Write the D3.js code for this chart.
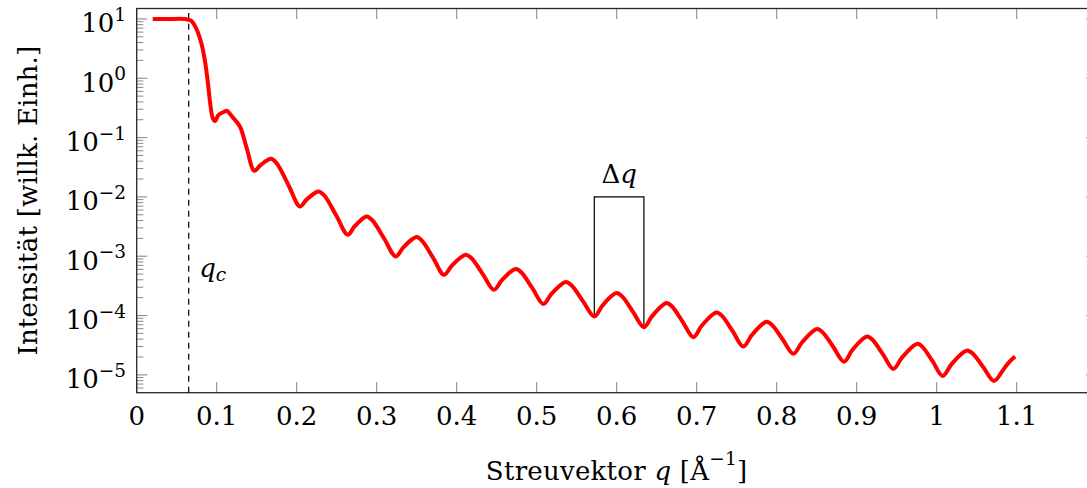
<!DOCTYPE html>
<html><head><meta charset="utf-8">
<script src="https://cdn.jsdelivr.net/npm/d3@7"></script>
<style>
body{margin:0;background:#fff;overflow:hidden}
svg{display:block}
text{font-family:"DejaVu Serif",serif;fill:#000}
</style>
</head><body>
<svg id="chart" width="1087" height="488"></svg>
<script>
// ---- data ----
const qValues = [
 0.020,0.040,0.060,0.068,0.075,0.0813,0.0854,0.0888,0.0916,0.0950,
 0.0979,0.1023,0.1096,0.1125,0.1194,0.129,0.1375,
 0.147,0.1544,0.1638,0.168,0.1752,0.1896,
 0.204,0.2122,0.2228,0.2275,0.2348,0.2493,
 0.2638,0.2721,0.2828,0.2875,0.2948,0.3093,
 0.3238,0.333,0.3448,0.350,0.3568,0.3705,
 0.3841,0.3937,0.4061,0.4116,0.4186,0.4326,
 0.4466,0.4562,0.4686,0.4741,0.4809,0.4946,
 0.5083,0.5182,0.5309,0.5366,0.5437,0.5578,
 0.572,0.5818,0.5944,0.600,0.6068,0.6204,
 0.634,0.644,0.6568,0.6625,0.6692,0.6825,
 0.6958,0.706,0.7192,0.725,0.7317,0.745,
 0.7583,0.7685,0.7817,0.7875,0.7942,0.8075,
 0.8208,0.8313,0.8448,0.8508,0.8575,0.8708,
 0.8841,0.8943,0.9075,0.9133,0.9198,0.9328,
 0.9458,0.9565,0.9702,0.9763,0.9825,0.995,
 1.0075,1.0183,1.0321,1.0383,1.045,1.0583,
 1.0716,1.083,1.0895,1.098
];
const intensityValues = [
 10,10,9.95,9.36,6.6,3.68,1.93,0.886,0.407,0.214,
 0.190,0.241,0.273,0.284,0.225,0.154,0.0667,
 0.0276,0.0340,0.042,0.044,0.0366,0.0159,
 0.0069,0.00897,0.01167,0.01236,0.01045,0.0049,
 0.0023,0.00316,0.00436,0.00468,0.0040,0.00199,
 0.00099,0.00139,0.00195,0.0021,0.00182,0.00094,
 0.000486,0.00069,0.000977,0.001057,0.000923,0.0005,
 0.000271,0.00039,0.00056,0.000607,0.00053,0.000289,
 0.000157,0.00023,0.000336,0.000366,0.00032,0.000175,
 0.000096,0.000145,0.000218,0.000239,0.00021,0.0001153,
 0.0000637,0.0000968,0.000147,0.000162,0.000142,0.0000783,
 0.0000432,0.0000665,0.000102,0.0001124,0.0000986,0.0000543,
 0.000030,0.0000462,0.0000711,0.0000783,0.0000692,0.0000395,
 0.0000226,0.0000348,0.0000536,0.000059,0.000052,0.0000295,
 0.0000167,0.0000259,0.0000402,0.0000443,0.000039,0.0000222,
 0.0000126,0.0000195,0.0000303,0.0000333,0.0000294,0.0000168,
 0.0000096,0.000015,0.0000233,0.0000257,0.0000229,0.0000134,
 0.0000079,0.0000121,0.0000158,0.0000203
];
const xTickValues = [0,0.1,0.2,0.3,0.4,0.5,0.6,0.7,0.8,0.9,1.0,1.1,1.2];
const xTickLabels = ["0","0.1","0.2","0.3","0.4","0.5","0.6","0.7","0.8","0.9","1","1.1",""];
const yTickExponents = [1,0,-1,-2,-3,-4,-5];
const qcValue = 0.065;
const qcTop = 12.6;
const deltaQStart = 0.572, deltaQEnd = 0.634, deltaQTop = 0.01;
const deltaQStartI = 0.000096, deltaQEndI = 0.0000637;

// ---- layout ----
const svg = d3.select("#chart");
const L = 136.7, R = 1096.7, T = 8.5, B = 392.7;
const x = d3.scaleLinear().domain([0,1.2]).range([L,R]);
const y = d3.scaleLog().domain([5e-6,15]).range([B,T]);
const FS = 26, FSS = 18.5;

const tickColor = "#8a8a8a";
const g = svg.append("g");

// y minor + major ticks
const yMinor = [];
for (let k=-6;k<=1;k++) for (let m=2;m<=9;m++){ const v=m*Math.pow(10,k); if (v>=5e-6 && v<=15) yMinor.push(v); }
yMinor.forEach(v=>{
  g.append("line").attr("x1",L).attr("x2",L+6.7).attr("y1",y(v)).attr("y2",y(v)).attr("stroke",tickColor).attr("stroke-width",1);
  g.append("line").attr("x1",R).attr("x2",R-6.7).attr("y1",y(v)).attr("y2",y(v)).attr("stroke",tickColor).attr("stroke-width",1);
});
yTickExponents.forEach(e=>{
  const v=Math.pow(10,e);
  g.append("line").attr("x1",L).attr("x2",L+10.5).attr("y1",y(v)).attr("y2",y(v)).attr("stroke",tickColor).attr("stroke-width",1.1);
  g.append("line").attr("x1",R).attr("x2",R-10.5).attr("y1",y(v)).attr("y2",y(v)).attr("stroke",tickColor).attr("stroke-width",1.1);
  const t = g.append("text").attr("x",126).attr("y",y(v)+13.5).attr("text-anchor","end").attr("font-size",FS);
  t.append("tspan").text("10");
  t.append("tspan").attr("dy",-11.5).attr("font-size",FSS).text(e<0?("\u2212"+(-e)):String(e));
});

// x ticks
xTickValues.forEach((v,i)=>{
  g.append("line").attr("x1",x(v)).attr("x2",x(v)).attr("y1",B).attr("y2",B-10.5).attr("stroke",tickColor).attr("stroke-width",1.1);
  g.append("line").attr("x1",x(v)).attr("x2",x(v)).attr("y1",T).attr("y2",T+10.5).attr("stroke",tickColor).attr("stroke-width",1.1);
  if (xTickLabels[i]) g.append("text").attr("x",x(v)).attr("y",425).attr("text-anchor","middle").attr("font-size",FS).text(xTickLabels[i]);
});

// frame
g.append("rect").attr("x",L).attr("y",T).attr("width",R-L).attr("height",B-T)
  .attr("fill","none").attr("stroke","#262626").attr("stroke-width",1.3);

// q_c dashed line
g.append("line").attr("x1",x(qcValue)).attr("x2",x(qcValue)).attr("y1",y(5e-6)).attr("y2",y(qcTop))
  .attr("stroke","#000").attr("stroke-width",1.2).attr("stroke-dasharray","6,5");
const qcT = g.append("text").attr("x",x(qcValue)+10.5).attr("y",276.5).attr("font-size",FS);
qcT.append("tspan").attr("font-style","italic").text("q");
qcT.append("tspan").attr("font-style","italic").attr("font-size",FSS).attr("dy",4).text("c");

// delta q bracket
g.append("path").attr("d", d3.line()([
  [x(deltaQStart), y(deltaQStartI)], [x(deltaQStart), y(deltaQTop)],
  [x(deltaQEnd), y(deltaQTop)], [x(deltaQEnd), y(deltaQEndI)]
])).attr("fill","none").attr("stroke","#000").attr("stroke-width",1.2);
const dq = g.append("text").attr("x",(x(deltaQStart)+x(deltaQEnd))/2).attr("y",183).attr("text-anchor","middle").attr("font-size",FS);
dq.append("tspan").text("\u0394");
dq.append("tspan").attr("font-style","italic").text("q");

// data curve
const data = qValues.map((q,i)=>({q, I:intensityValues[i]}));
g.append("path").datum(data)
  .attr("d", d3.line().x(d=>x(d.q)).y(d=>y(d.I)).curve(d3.curveCatmullRom.alpha(0.5)))
  .attr("fill","none").attr("stroke","#ff0000").attr("stroke-width",4)
  .attr("stroke-linejoin","round").attr("stroke-linecap","butt");

// axis labels
const xl = g.append("text").attr("x",(L+R)/2).attr("y",480).attr("text-anchor","middle").attr("font-size",FS);
xl.append("tspan").text("Streuvektor ");
xl.append("tspan").attr("font-style","italic").text("q");
xl.append("tspan").text(" [\u00C5");
xl.append("tspan").attr("dy",-15).attr("font-size",FSS).text("\u22121");
xl.append("tspan").attr("dy",15).attr("font-size",FS).text("]");
let w = xl.node().getComputedTextLength();
if (w < 262) xl.attr("letter-spacing", ((262-w)/20).toFixed(2));

const yl = g.append("text").attr("transform",`translate(36.7,${(T+B)/2}) rotate(-90)`)
  .attr("text-anchor","middle").attr("font-size",FS).text("Intensität [willk. Einh.]");
w = yl.node().getComputedTextLength();
if (w < 310) yl.attr("letter-spacing", ((310-w)/25).toFixed(2));
</script>
</body></html>
